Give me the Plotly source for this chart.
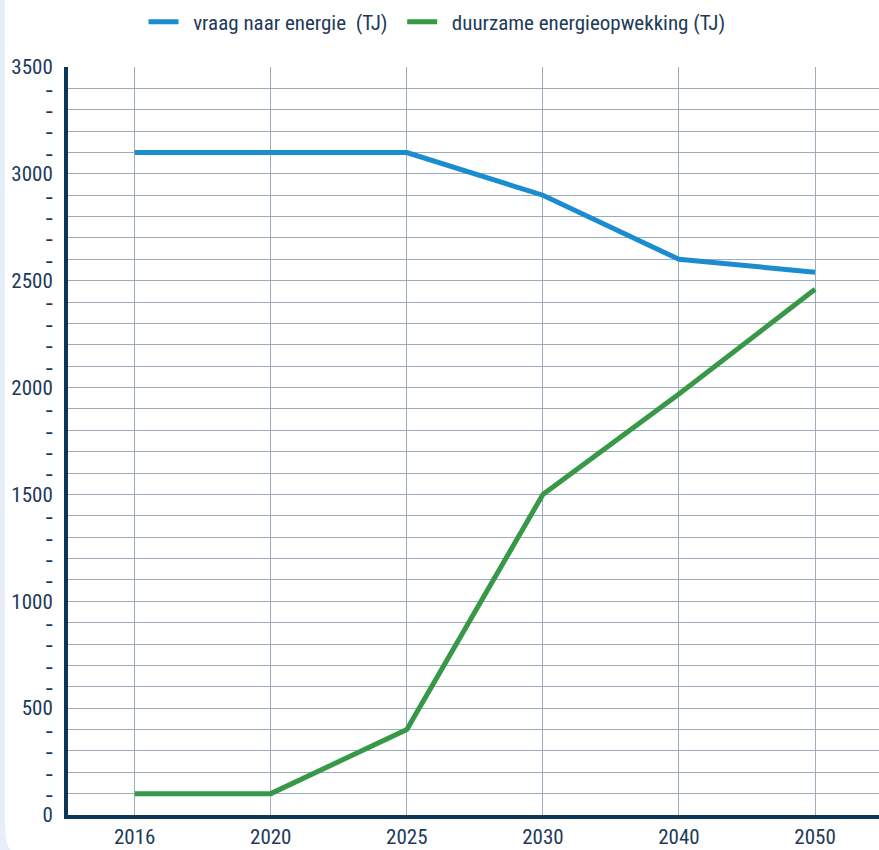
import plotly.graph_objects as go

years = ["2016", "2020", "2025", "2030", "2040", "2050"]
vraag = [3100, 3100, 3100, 2900, 2600, 2540]
duurzaam = [100, 100, 400, 1500, 1970, 2460]
name_vraag = "&nbsp;&nbsp;vraag naar energie&nbsp;&nbsp;(TJ)&nbsp;&nbsp;"
name_duurzaam = "&nbsp;&nbsp;duurzame energieopwekking (TJ)"
y_ticks = list(range(0, 3501, 100))
DASH = "<span style='font-size:14px'><b>–</b></span>"
y_text = [str(v) if v % 500 == 0 else DASH for v in y_ticks]

FONT = "Roboto Condensed, Liberation Sans Narrow, DejaVu Sans Condensed, Roboto, sans-serif"
TXT = "#1d3a5a"
NAVY = "#0d3758"
GRID = "#9eabba"

W, H = 879, 850
L, R, T, B = 68, 0, 67, 35
PW, PH = W - L - R, H - T - B

def px(x):
    return (x - L) / PW

def py(y):
    return (H - B - y) / PH

fig = go.Figure()
fig.add_trace(go.Scatter(x=years, y=vraag, mode="lines", name=name_vraag,
                         line=dict(color="#1b8ccf", width=5)))
fig.add_trace(go.Scatter(x=years, y=duurzaam, mode="lines", name=name_duurzaam,
                         line=dict(color="#379847", width=5)))

path = (f"M {px(0)} {py(0)} L {px(5)} {py(0)} L {px(5)} {py(822)} "
        f"Q {px(5)} {py(846)} {px(11)} {py(850)} L {px(0)} {py(850)} Z")
fig.add_shape(type="path", xref="paper", yref="paper", path=path,
              fillcolor="#e8eef8", line=dict(width=0), layer="below")

fig.update_layout(
    width=W, height=H,
    margin=dict(l=L, r=R, t=T, b=B),
    paper_bgcolor="white", plot_bgcolor="white",
    font=dict(family=FONT, color=TXT, size=21),
    showlegend=True,
    legend=dict(orientation="h", x=px(437), xanchor="center", y=py(22), yanchor="middle",
                font=dict(size=21, color=TXT), itemwidth=30, traceorder="normal"),
    xaxis=dict(type="category", categoryorder="array", categoryarray=years,
               range=[-0.49, 5.47], showgrid=True, gridcolor=GRID, gridwidth=1,
               showline=True, linecolor=NAVY, linewidth=4, ticks="",
               tickfont=dict(size=21, color=TXT), fixedrange=True),
    yaxis=dict(range=[0, 3500], tickmode="array", tickvals=y_ticks, ticktext=y_text,
               showgrid=True, gridcolor=GRID, gridwidth=1, zeroline=False,
               showline=True, linecolor=NAVY, linewidth=4, ticks="",
               ticklabelstandoff=7, tickfont=dict(size=21, color=TXT), fixedrange=True),
)

fig.write_html("out.html")
